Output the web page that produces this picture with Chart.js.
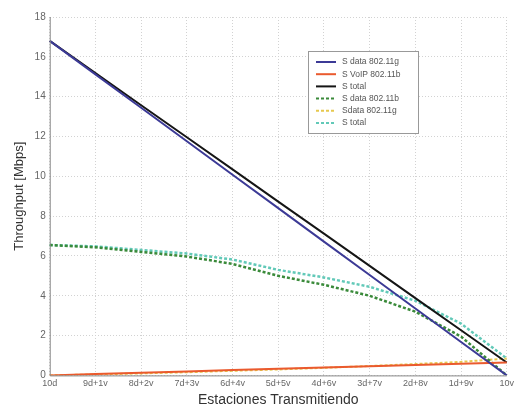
<!DOCTYPE html>
<html>
<head>
<meta charset="utf-8">
<script src="https://cdn.jsdelivr.net/npm/chart.js@4"></script>
<style>
html,body{margin:0;padding:0;background:#fff;}
#wrap{width:517px;height:409px;position:relative;}
</style>
</head>
<body>
<div id="wrap"><canvas id="c" width="517" height="409"></canvas></div>
<script>
const categories = ["10d","9d+1v","8d+2v","7d+3v","6d+4v","5d+5v","4d+6v","3d+7v","2d+8v","1d+9v","10v"];
const yTicks = [0,2,4,6,8,10,12,14,16,18];
const sDataG   = [16.8, 15.12, 13.44, 11.76, 10.08, 8.4, 6.72, 5.04, 3.36, 1.68, 0];
const sVoipB   = [0, 0.07, 0.13, 0.2, 0.27, 0.33, 0.4, 0.46, 0.52, 0.59, 0.65];
const sTotal1  = [16.8, 15.19, 13.57, 11.96, 10.35, 8.73, 7.12, 5.5, 3.88, 2.27, 0.65];
const sDataB   = [6.55, 6.43, 6.2, 5.97, 5.6, 5.0, 4.55, 4.0, 3.2, 1.95, 0];
const sDataG2  = [0, 0.05, 0.1, 0.16, 0.23, 0.3, 0.38, 0.47, 0.57, 0.68, 0.85];
const sTotal2  = [6.55, 6.48, 6.3, 6.12, 5.82, 5.3, 4.92, 4.45, 3.75, 2.6, 0.85];
const seriesNames = ["S data 802.11g","S VoIP 802.11b","S total","S data 802.11b","Sdata 802.11g","S total"];

const axisLines = {
  id: 'axisLines',
  afterDatasetsDraw(chart) {
    const { ctx, chartArea: a } = chart;
    ctx.save();
    ctx.strokeStyle = '#888';
    ctx.lineWidth = 1;
    ctx.setLineDash([]);
    ctx.beginPath();
    ctx.moveTo(a.left + 0.5, a.top);
    ctx.lineTo(a.left + 0.5, a.bottom + 0.5);
    ctx.lineTo(a.right, a.bottom + 0.5);
    ctx.stroke();
    ctx.restore();
  }
};

const insideLegend = {
  id: 'insideLegend',
  afterDraw(chart) {
    const ctx = chart.ctx;
    const x0 = 308, y0 = 51, w = 110, h = 82;
    ctx.save();
    ctx.fillStyle = '#fff';
    ctx.fillRect(x0, y0, w, h);
    ctx.strokeStyle = '#999';
    ctx.lineWidth = 1;
    ctx.strokeRect(x0 + 0.5, y0 + 0.5, w, h);
    ctx.font = '8.5px "Liberation Sans", Arial, sans-serif';
    ctx.textBaseline = 'middle';
    chart.data.datasets.forEach((ds, i) => {
      const yy = y0 + 11 + i * 12.2;
      ctx.strokeStyle = ds.borderColor;
      ctx.lineWidth = 2;
      ctx.setLineDash(ds.borderDash || []);
      ctx.beginPath();
      ctx.moveTo(x0 + 8, yy);
      ctx.lineTo(x0 + 28, yy);
      ctx.stroke();
      ctx.setLineDash([]);
      ctx.fillStyle = '#555';
      ctx.fillText(ds.label, x0 + 34, yy);
    });
    ctx.restore();
  }
};

const mk = (label, data, color, dash, width) => ({
  label, data, borderColor: color, backgroundColor: color,
  borderWidth: width, borderDash: dash, pointRadius: 0, tension: 0, fill: false
});

const fam = '"Liberation Sans", Arial, sans-serif';

new Chart(document.getElementById('c'), {
  type: 'line',
  data: {
    labels: categories,
    datasets: [
      mk(seriesNames[0], sDataG, '#3c3a96', [], 2),
      mk(seriesNames[1], sVoipB, '#ea5a2e', [], 2),
      mk(seriesNames[2], sTotal1, '#151515', [], 2),
      mk(seriesNames[3], sDataB, '#3a8a3a', [3, 2], 2.5),
      mk(seriesNames[4], sDataG2, '#e6c84e', [3, 2], 2),
      mk(seriesNames[5], sTotal2, '#62c9b8', [3, 2], 2.5)
    ]
  },
  options: {
    responsive: false,
    animation: false,
    layout: { padding: { left: 12, right: 0, top: 17, bottom: 0 } },
    plugins: { legend: { display: false }, tooltip: { enabled: false } },
    scales: {
      x: {
        type: 'category',
        offset: false,
        grid: { color: '#d2d2d2', drawTicks: false },
        border: { display: false, dash: [1, 2] },
        ticks: { color: '#666', font: { family: fam, size: 9 }, padding: 3, maxRotation: 0, autoSkip: false },
        title: { display: true, text: 'Estaciones Transmitiendo', color: '#333', font: { family: fam, size: 14 }, padding: { top: 0, bottom: 0 } }
      },
      y: {
        min: 0, max: 18,
        afterBuildTicks(scale) { scale.ticks = yTicks.map(v => ({ value: v })); },
        grid: { color: '#d2d2d2', drawTicks: false },
        border: { display: false, dash: [1, 2] },
        ticks: { color: '#666', font: { family: fam, size: 10 }, padding: 4 },
        title: { display: true, text: 'Throughput [Mbps]', color: '#333', font: { family: fam, size: 13 }, padding: { top: 0, bottom: 3 } }
      }
    }
  },
  plugins: [axisLines, insideLegend]
});
</script>
</body>
</html>
